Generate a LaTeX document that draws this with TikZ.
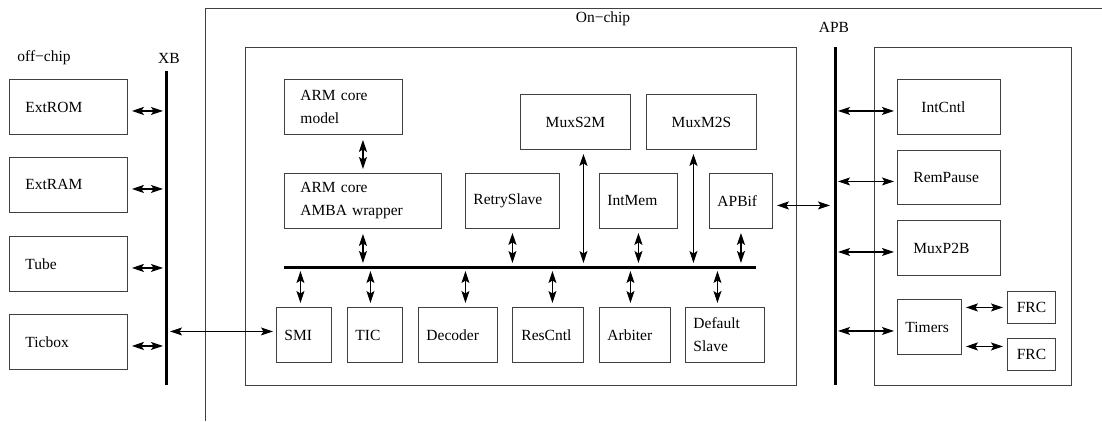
\documentclass[tikz,border=0pt]{standalone}
\usepackage{fontspec}
\setmainfont{Liberation Serif}
\usetikzlibrary{arrows.meta}
\begin{document}
\begin{tikzpicture}[x=1pt,y=-1pt,
  txt/.style={font=\fontsize{15.5pt}{23pt}\selectfont, inner sep=0pt},
  box/.style={txt, draw=black!75, line width=0.9pt, anchor=north west, inner ysep=0pt, align=left},
  cbox/.style={box, align=center},
  frame/.style={draw=black!75, line width=0.9pt},
  bus/.style={line width=3pt, black},
  arr/.style={line width=1.1pt, {Stealth[length=12pt,width=8pt,inset=2.5pt]}-{Stealth[length=12pt,width=8pt,inset=2.5pt]}}
]
\useasboundingbox (0,0) rectangle (1102,421);
% frames
\draw[frame] (205,421) -- (205,8) -- (1102,8);
\draw[frame] (245,47) rectangle (796,385);
\draw[frame] (874,47) rectangle (1071,385);
% labels
\node[txt] (offchip) at (44,58) {off−chip};
\node[txt] (xblab) at (169,58) {XB};
\node[txt] (onchip) at (603,19) {On−chip};
\node[txt] (apblab) at (834,27) {APB};
% buses
\coordinate (xbT) at (166,71); \coordinate (xbB) at (166,385);
\coordinate (apbT) at (835,47); \coordinate (apbB) at (835,385);
\coordinate (busL) at (284,267); \coordinate (busR) at (756,267);
\draw[bus] (xbT) -- (xbB);
\draw[bus] (apbT) -- (apbB);
\draw[bus] (busL) -- (busR);
% off-chip
\node[box, minimum width=118pt, minimum height=55pt, inner xsep=16pt, text width=86pt] (extrom) at (9,79) {ExtROM};
\node[box, minimum width=118pt, minimum height=55pt, inner xsep=16pt, text width=86pt] (extram) at (9,157) {ExtRAM};
\node[box, minimum width=118pt, minimum height=55pt, inner xsep=16pt, text width=86pt] (tube) at (9,236) {Tube};
\node[box, minimum width=118pt, minimum height=55pt, inner xsep=16pt, text width=86pt] (ticbox) at (9,314) {Ticbox};
% on-chip upper
\node[box, minimum width=118pt, minimum height=55pt, inner xsep=16pt, text width=86pt] (armmodel) at (284,79) {ARM core\\model};
\node[box, minimum width=157pt, minimum height=55pt, inner xsep=16pt, text width=125pt] (wrapper) at (284,173) {ARM core\\AMBA wrapper};
\node[box, minimum width=94pt, minimum height=55pt, inner xsep=8pt, text width=78pt] (retry) at (465,173) {RetrySlave};
\node[box, minimum width=78pt, minimum height=55pt, inner xsep=8pt, text width=62pt] (intmem) at (599,173) {IntMem};
\node[box, minimum width=63pt, minimum height=55pt, inner xsep=8pt, text width=47pt] (apbif) at (709,173) {APBif};
\node[cbox, minimum width=110pt, minimum height=55pt] (muxs2m) at (520,94) {MuxS2M};
\node[cbox, minimum width=110pt, minimum height=55pt] (muxm2s) at (646,94) {MuxM2S};
% on-chip lower
\node[box, minimum width=55pt, minimum height=55pt, inner xsep=8pt, text width=39pt] (smi) at (276,307) {SMI};
\node[box, minimum width=55pt, minimum height=55pt, inner xsep=8pt, text width=39pt] (tic) at (347,307) {TIC};
\node[box, minimum width=79pt, minimum height=55pt, inner xsep=8pt, text width=63pt] (decoder) at (418,307) {Decoder};
\node[box, minimum width=71pt, minimum height=55pt, inner xsep=9pt, text width=53pt] (rescntl) at (512,307) {ResCntl};
\node[box, minimum width=71pt, minimum height=55pt, inner xsep=8pt, text width=55pt] (arbiter) at (599,307) {Arbiter};
\node[box, minimum width=79pt, minimum height=55pt, inner xsep=8pt, text width=63pt] (defslave) at (685,307) {Default\\Slave};
% APB side
\node[box, minimum width=103pt, minimum height=55pt, inner xsep=24pt, text width=55pt] (intcntl) at (897,79) {IntCntl};
\node[box, minimum width=103pt, minimum height=54pt, inner xsep=16pt, text width=71pt] (rempause) at (897,150) {RemPause};
\node[box, minimum width=103pt, minimum height=55pt, inner xsep=16pt, text width=71pt] (muxp2b) at (897,220) {MuxP2B};
\node[box, minimum width=64pt, minimum height=55pt, inner xsep=8pt, text width=48pt] (timers) at (897,299) {Timers};
\node[cbox, minimum width=48pt, minimum height=32pt] (frca) at (1007,291) {FRC};
\node[cbox, minimum width=48pt, minimum height=32pt] (frcb) at (1007,338) {FRC};
% off-chip to XB
\foreach \n in {extrom,extram,tube,ticbox}
  \draw[arr, shorten <=4pt, shorten >=3pt] ([yshift=-4pt]\n.east) -- ([yshift=-4pt]\n.east -| xbT);
% SMI to XB
\draw[arr, shorten <=4pt, shorten >=3pt] ([yshift=3.5pt]smi.west -| xbT) -- ([yshift=3.5pt]smi.west);
% upper vertical
\draw[arr, shorten <=5pt, shorten >=4pt] (wrapper.north |- armmodel.south) -- (wrapper.north);
\draw[arr, shorten <=5pt, shorten >=4pt] (wrapper.south) -- (wrapper.south |- busL);
\draw[arr, shorten <=4pt, shorten >=4pt] (retry.south) -- (retry.south |- busL);
\draw[arr, shorten <=4pt, shorten >=4pt] (intmem.south) -- (intmem.south |- busL);
\draw[arr, shorten <=4pt, shorten >=4pt] (apbif.south) -- (apbif.south |- busL);
\draw[arr, shorten <=4pt, shorten >=4pt] ([xshift=8pt]muxs2m.south) -- ([xshift=8pt]muxs2m.south |- busL);
\draw[arr, shorten <=4pt, shorten >=4pt] ([xshift=-8pt]muxm2s.south) -- ([xshift=-8pt]muxm2s.south |- busL);
% lower vertical
\draw[arr, shorten <=4pt, shorten >=4pt] ([xshift=-3.5pt]smi.north |- busL) -- ([xshift=-3.5pt]smi.north);
\draw[arr, shorten <=4pt, shorten >=4pt] ([xshift=-4.5pt]tic.north |- busL) -- ([xshift=-4.5pt]tic.north);
\draw[arr, shorten <=4pt, shorten >=4pt] ([xshift=7.5pt]decoder.north |- busL) -- ([xshift=7.5pt]decoder.north);
\draw[arr, shorten <=4pt, shorten >=4pt] ([xshift=4.5pt]rescntl.north |- busL) -- ([xshift=4.5pt]rescntl.north);
\draw[arr, shorten <=4pt, shorten >=4pt] ([xshift=-4.5pt]arbiter.north |- busL) -- ([xshift=-4.5pt]arbiter.north);
\draw[arr, shorten <=4pt, shorten >=4pt] ([xshift=-7.5pt]defslave.north |- busL) -- ([xshift=-7.5pt]defslave.north);
% APBif to APB
\draw[arr, shorten <=4pt, shorten >=5pt] ([yshift=-4.5pt]apbif.east) -- ([yshift=-4.5pt]apbif.east -| apbT);
% APB to right boxes
\foreach \n in {intcntl,rempause,muxp2b,timers}
  \draw[arr, shorten <=3pt, shorten >=3pt] ([yshift=-4pt]\n.west -| apbT) -- ([yshift=-4pt]\n.west);
% Timers to FRC
\draw[arr, shorten <=4pt, shorten >=4pt] (timers.east |- frca.west) -- (frca.west);
\draw[arr, shorten <=4pt, shorten >=4pt] ([yshift=8pt]timers.east |- frcb.west) -- ([yshift=8pt]frcb.west);
\end{tikzpicture}
\end{document}
